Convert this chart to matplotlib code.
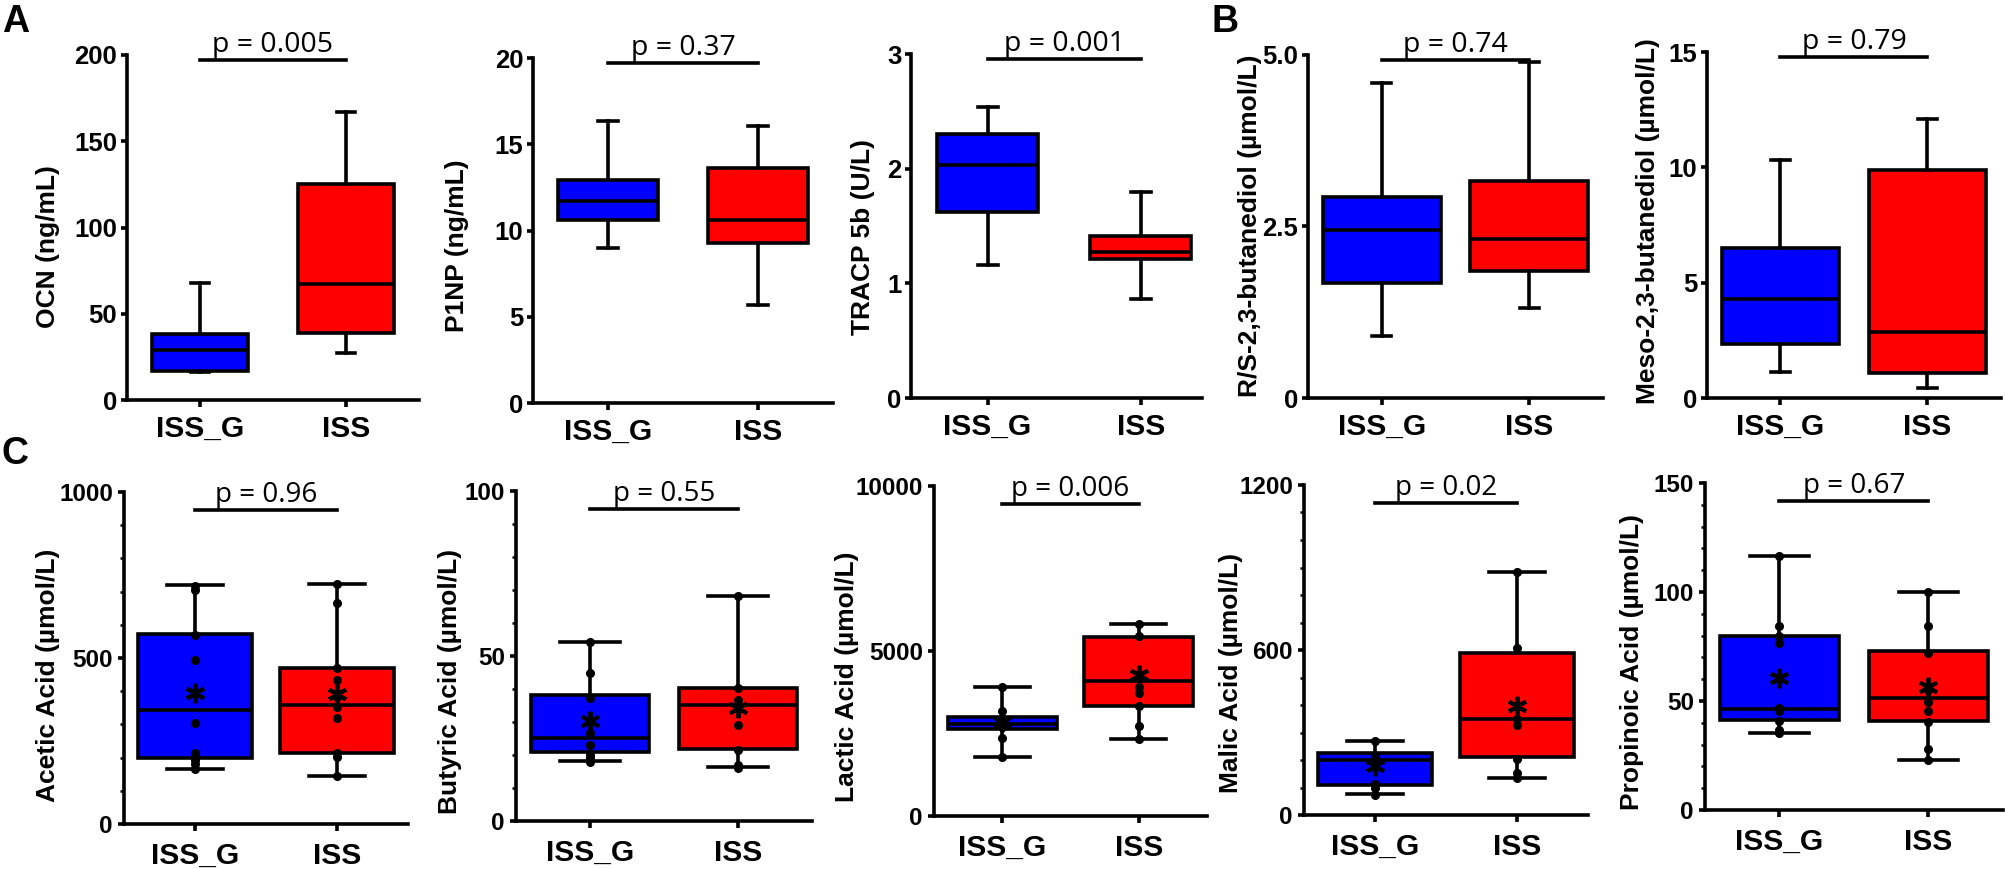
import matplotlib
matplotlib.use("Agg")
import matplotlib.pyplot as plt
from matplotlib import font_manager
from matplotlib.ticker import MultipleLocator, NullLocator

# ---- data (box stats: whislo, q1, median, q3, whishi) ----
groups = ["ISS_G", "ISS"]

ocn_box = [[16, 17, 29, 38, 68], [27, 39, 67, 125, 167]]
p1np_box = [[9.0, 10.6, 11.7, 12.9, 16.35], [5.7, 9.25, 10.6, 13.6, 16.05]]
tracp_box = [[1.16, 1.62, 2.03, 2.30, 2.54], [0.86, 1.21, 1.27, 1.41, 1.80]]
rs_box = [[0.90, 1.68, 2.45, 2.93, 4.59], [1.31, 1.85, 2.32, 3.16, 4.90]]
meso_box = [[1.13, 2.34, 4.29, 6.5, 10.3], [0.43, 1.08, 2.86, 9.88, 12.1]]

acetic_box = [[166, 199, 343, 572, 720], [145, 213, 357, 469, 722]]
acetic_pts_g = [718, 705, 569, 494, 303, 213, 193, 181, 165]
acetic_pts_iss = [722, 667, 469, 433, 383, 352, 319, 213, 203, 145]
acetic_mean = [394, 391]

butyric_box = [[18.3, 20.9, 25.3, 38.2, 54.1], [16.5, 21.8, 35.2, 40.2, 68.3]]
butyric_pts_g = [54.1, 44.7, 37.2, 26.8, 23.1, 20.1, 19.1, 18.0]
butyric_pts_iss = [68.3, 40.2, 36.7, 29.2, 21.6, 17.0, 16.1]
butyric_mean = [30.4, 34.3]

lactic_box = [[1778, 2645, 2778, 3009, 3918], [2324, 3333, 4090, 5433, 5818]]
lactic_pts_g = [3918, 3182, 2857, 2706, 2354, 1778]
lactic_pts_iss = [5818, 5454, 3900, 3718, 3333, 2736, 2324]
lactic_mean = [2857, 4272]

malic_box = [[75, 109, 200, 224, 269], [136, 210, 349, 588, 885]]
malic_pts_g = [269, 212, 113, 97, 73]
malic_pts_iss = [885, 606, 349, 326, 203, 152, 136]
malic_mean = [179, 396]

propinoic_box = [[35.3, 41.1, 46.3, 79.8, 116.4], [23.1, 40.7, 51.5, 72.8, 100]]
propinoic_pts_g = [116.4, 84.3, 79.6, 76.6, 46.8, 45.3, 40.7, 36.5, 35.1]
propinoic_pts_iss = [100, 84.3, 72.0, 55, 49.5, 45.3, 40.4, 28.2, 23.1]
propinoic_mean = [60.6, 56.4]

top_labels = ["OCN (ng/mL)", "P1NP (ng/mL)", "TRACP 5b (U/L)",
              "R/S-2,3-butanediol (µmol/L)", "Meso-2,3-butanediol (µmol/L)"]
top_pvals = ["p = 0.005", "p = 0.37", "p = 0.001", "p = 0.74", "p = 0.79"]
top_ticks = [[0, 50, 100, 150, 200], [0, 5, 10, 15, 20], [0, 1, 2, 3],
             [0, 2.5, 5.0], [0, 5, 10, 15]]
top_ticklabels = [None, None, None, ["0", "2.5", "5.0"], None]

bot_labels = ["Acetic Acid (µmol/L)", "Butyric Acid (µmol/L)", "Lactic Acid (µmol/L)",
              "Malic Acid (µmol/L)", "Propinoic Acid (µmol/L)"]
bot_pvals = ["p = 0.96", "p = 0.55", "p = 0.006", "p = 0.02", "p = 0.67"]
bot_ticks = [[0, 500, 1000], [0, 50, 100], [0, 5000, 10000], [0, 600, 1200], [0, 50, 100, 150]]
bot_minor = [100, 10, None, 100, 10]

# ---- styling / layout ----
names = {f.name for f in font_manager.fontManager.ttflist}
BOLD = "Liberation Sans" if "Liberation Sans" in names else "DejaVu Sans"
PFONT = "Open Sans" if "Open Sans" in names else "DejaVu Sans"
plt.rcParams["font.family"] = [BOLD, "DejaVu Sans"]

BLUE = "#0000ff"
RED = "#ff0000"
LW = 2.6

W, H = 2006, 869
fig = plt.figure(figsize=(W / 100, H / 100), dpi=100)

# pixel rects: (left, right, top, bottom), ylabel center (x, y), xlim right
top_rects = [(127, 419, 55, 400), (533, 833, 58, 403), (911, 1202, 54, 398),
             (1308, 1603, 55, 398), (1707, 2001, 52, 398)]
top_ylab = [(48, 247), (457, 246), (863, 237), (1250, 226), (1648, 221)]
top_xmax = [2.5, 2.5, 2.4, 2.5, 2.5]
top_widths = [0.66, 0.67, 0.66, 0.8, 0.8]

bot_rects = [(124, 408, 492, 824), (516, 812, 491, 821), (934, 1207, 486, 816),
             (1304, 1588, 485, 815), (1705, 2003, 483, 810)]
bot_ylab = [(48, 675), (450, 681), (847, 677), (1231, 673), (1632, 662)]


def add_ax(rect, xmax, xpad):
    x0, x1, y0, y1 = rect
    ax = fig.add_axes([x0 / W, 1 - y1 / H, (x1 - x0) / W, (y1 - y0) / H])
    ax.set_xlim(0.5, xmax)
    for side in ("top", "right"):
        ax.spines[side].set_visible(False)
    for side in ("left", "bottom"):
        ax.spines[side].set_linewidth(LW)
    ax.tick_params(axis="both", which="major", direction="out", width=LW, length=4)
    ax.tick_params(axis="y", which="minor", direction="out", width=1.8, length=3)
    ax.tick_params(axis="x", length=5, pad=xpad)
    ax.set_xticks([1, 2])
    ax.set_xticklabels(groups, fontsize=21.5, fontweight="bold")
    return ax


def draw_boxes(ax, box, width, capw):
    stats = []
    for b in box:
        stats.append({"whislo": b[0], "q1": b[1], "med": b[2], "q3": b[3],
                      "whishi": b[4], "fliers": []})
    parts = ax.bxp(stats, positions=[1, 2], widths=width, patch_artist=True,
                   showfliers=False, manage_ticks=False, capwidths=capw,
                   boxprops=dict(linewidth=LW, edgecolor="black"),
                   medianprops=dict(linewidth=LW, color="black"),
                   whiskerprops=dict(linewidth=LW, color="black"),
                   capprops=dict(linewidth=LW, color="black"))
    for patch, col in zip(parts["boxes"], [BLUE, RED]):
        patch.set_facecolor(col)


def p_bar(ax, text, yfrac, size):
    tr = ax.get_xaxis_transform()
    ax.plot([1, 2], [yfrac, yfrac], color="black", lw=LW, transform=tr, clip_on=False)
    ax.annotate(text, xy=(1.5, yfrac), xycoords=tr, xytext=(0, 6),
                textcoords="offset points", ha="center", va="baseline",
                fontsize=size, fontfamily=PFONT, annotation_clip=False)


top_boxes = [ocn_box, p1np_box, tracp_box, rs_box, meso_box]
for i in range(5):
    ax = add_ax(top_rects[i], top_xmax[i], 6)
    draw_boxes(ax, top_boxes[i], top_widths[i], 0.13)
    ax.set_ylim(0, top_ticks[i][-1])
    ax.set_yticks(top_ticks[i])
    if top_ticklabels[i]:
        ax.set_yticklabels(top_ticklabels[i])
    for lab in ax.get_yticklabels():
        lab.set_fontsize(18.5)
        lab.set_fontweight("bold")
    ax.tick_params(axis="y", pad=3)
    p_bar(ax, top_pvals[i], 0.985, 20.5)
    fig.text(top_ylab[i][0] / W, 1 - top_ylab[i][1] / H, top_labels[i], rotation=90,
             ha="center", va="center", fontsize=19, fontweight="bold")

bot_boxes = [acetic_box, butyric_box, lactic_box, malic_box, propinoic_box]
bot_pts = [(acetic_pts_g, acetic_pts_iss), (butyric_pts_g, butyric_pts_iss),
           (lactic_pts_g, lactic_pts_iss), (malic_pts_g, malic_pts_iss),
           (propinoic_pts_g, propinoic_pts_iss)]
bot_means = [acetic_mean, butyric_mean, lactic_mean, malic_mean, propinoic_mean]
for i in range(5):
    ax = add_ax(bot_rects[i], 2.5, 8)
    draw_boxes(ax, bot_boxes[i], 0.8, 0.4)
    for pos, pts in zip([1, 2], bot_pts[i]):
        ax.plot([pos] * len(pts), pts, "o", color="black", ms=5.5, zorder=4)
    ax.plot([1, 2], bot_means[i], linestyle="none", marker=(6, 2, 0), ms=14,
            mew=2.8, color="black", zorder=5)
    ax.set_ylim(0, bot_ticks[i][-1])
    ax.set_yticks(bot_ticks[i])
    if bot_minor[i]:
        ax.yaxis.set_minor_locator(MultipleLocator(bot_minor[i]))
    else:
        ax.yaxis.set_minor_locator(NullLocator())
    for lab in ax.get_yticklabels():
        lab.set_fontsize(17.5)
        lab.set_fontweight("bold")
    ax.tick_params(axis="y", pad=4)
    p_bar(ax, bot_pvals[i], 0.945, 20)
    fig.text(bot_ylab[i][0] / W, 1 - bot_ylab[i][1] / H, bot_labels[i], rotation=90,
             ha="center", va="center", fontsize=19, fontweight="bold")

# panel letters
fig.text(2 / W, 1 - 4 / H, "A", fontsize=27, fontweight="bold", ha="left", va="top")
fig.text(1212 / W, 1 - 4 / H, "B", fontsize=27, fontweight="bold", ha="left", va="top")
fig.text(2 / W, 1 - 436 / H, "C", fontsize=27, fontweight="bold", ha="left", va="top")

fig.savefig("out.png", dpi=100, facecolor="white")
